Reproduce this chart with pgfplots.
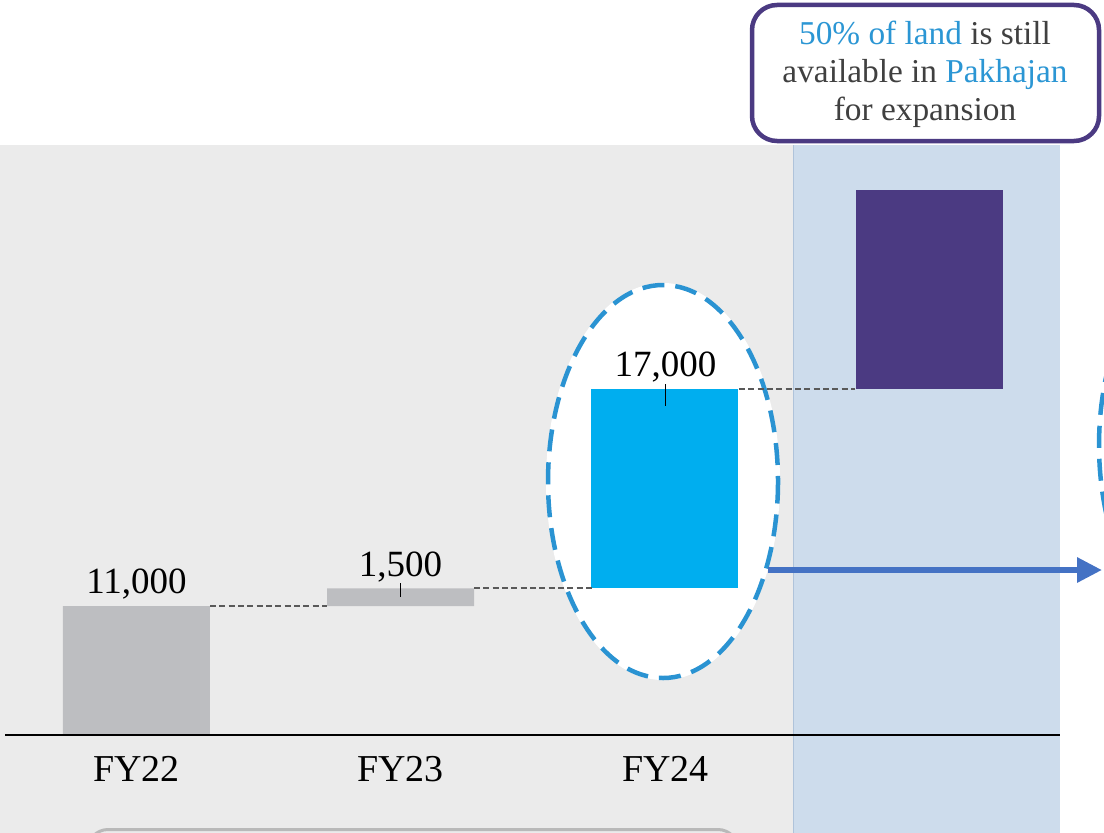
\documentclass[border=0pt]{standalone}
\usepackage{fontspec}
\setmainfont{Liberation Serif}
\usepackage{pgfplots}
\pgfplotsset{compat=1.18}
\usetikzlibrary{arrows.meta}
\definecolor{bggray}{HTML}{EBEBEB}
\definecolor{bgblue}{HTML}{CDDCEC}
\definecolor{edgeblue}{HTML}{AFC3DA}
\definecolor{bargray}{HTML}{BDBEC1}
\definecolor{barcyan}{HTML}{00AEEF}
\definecolor{barpurple}{HTML}{4B3A82}
\definecolor{ellblue}{HTML}{2A93D2}
\definecolor{arrowblue}{HTML}{4472C4}
\definecolor{textblue}{HTML}{2B96D4}
\definecolor{textgray}{HTML}{404040}
\definecolor{conn}{HTML}{595959}
\begin{document}
\begin{tikzpicture}
% ---------- background (pixel frame: 1px = 0.3pt, y downwards) ----------
\begin{scope}[x=0.3pt, y=-0.3pt, shift={(0,249.6pt)}]
\clip (0,0) rectangle (1104,832);
\fill[bggray] (0,145) rectangle (793,840);
\fill[bgblue] (793,145) rectangle (1060,840);
\draw[edgeblue, line width=0.3pt] (793,145) -- (793,840);
\draw[gray!55, line width=0.9pt, rounded corners=6pt] (88,850) -- (88,829.5) -- (738,829.5) -- (738,850);
\fill[white] (663,481.5) ellipse [x radius=117, y radius=198.5];
\draw[ellblue, line width=1.35pt, dash pattern=on 6.6pt off 3.3pt] (663,481.5) ellipse [x radius=115, y radius=196.5];
\fill[white] (1214,445) ellipse [x radius=117, y radius=198.5];
\draw[ellblue, line width=1.35pt, dash pattern=on 6.6pt off 3.3pt] (1214,445) ellipse [x radius=115, y radius=196.5];
\end{scope}
% ---------- waterfall bars ----------
\begin{axis}[
  at={(0,0)}, anchor=south west,
  scale only axis, width=331.2pt, height=249.6pt,
  xmin=-0.5166, xmax=3.662, ymin=-8271, ymax=62674,
  axis lines=none, ticks=none,
  ybar stacked, bar width=0.5564, clip=true]
\addplot[draw=none, fill=none] coordinates {(0,0) (1,11000) (2,12500) (3,29500)};
\addplot[draw=none, fill=bargray] coordinates {(0,11000) (1,1500) (2,0) (3,0)};
\addplot[draw=none, fill=barcyan] coordinates {(0,0) (1,0) (2,17000) (3,0)};
\addplot[draw=none, fill=barpurple] coordinates {(0,0) (1,0) (2,0) (3,17000)};
\end{axis}
% ---------- foreground ----------
\begin{scope}[x=0.3pt, y=-0.3pt, shift={(0,249.6pt)}]
\draw[conn, line width=0.4pt, dash pattern=on 1.8pt off 1pt] (210,606) -- (327,606);
\draw[conn, line width=0.4pt, dash pattern=on 1.8pt off 1pt] (474,588) -- (592,588);
\draw[conn, line width=0.4pt, dash pattern=on 1.8pt off 1pt] (739,389) -- (855,389);
\draw[black, line width=0.45pt] (400.5,583) -- (400.5,597);
\draw[black, line width=0.45pt] (665.5,384) -- (665.5,406);
\draw[black, line width=0.45pt] (5,735) -- (1060,735);
\node[anchor=base, font=\fontsize{11.1}{13}\selectfont] at (136.5,593) {11,000};
\node[anchor=base, font=\fontsize{11.1}{13}\selectfont] at (400.5,576) {1,500};
\node[anchor=base, font=\fontsize{11.1}{13}\selectfont] at (665.5,376) {17,000};
\node[anchor=base, font=\fontsize{11.4}{13}\selectfont] at (136.5,781) {FY22};
\node[anchor=base, font=\fontsize{11.4}{13}\selectfont] at (400.5,781) {FY23};
\node[anchor=base, font=\fontsize{11.4}{13}\selectfont] at (665.5,781) {FY24};
\draw[arrowblue, line width=1.8pt, -{Triangle[length=7.5pt,width=7.2pt]}] (768,570) -- (1102,570);
\draw[barpurple, line width=1.35pt, fill=white, rounded corners=7.5pt] (752,5) rectangle (1099,141);
\node[align=center, text=textgray, font=\fontsize{10}{11.4}\selectfont] at (925,74) {\textcolor{textblue}{50\% of land} is still\\ available in \textcolor{textblue}{Pakhajan}\\ for expansion};
\end{scope}
\pgfresetboundingbox
\useasboundingbox (0,0) rectangle (331.2pt,249.6pt);
\end{tikzpicture}
\end{document}
